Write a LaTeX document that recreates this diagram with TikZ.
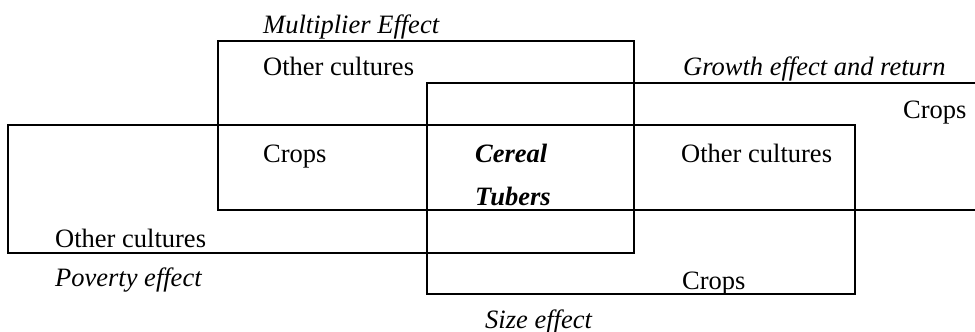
\documentclass[tikz,border=0pt]{standalone}
\usepackage{fontspec}
\setmainfont{Liberation Serif}
\begin{document}
\begin{tikzpicture}[x=1pt,y=-1pt,
  box/.style={draw=black,line width=1.6pt},
  core/.style={draw=black,line width=2.6pt},
  lbl/.style={inner sep=0pt,anchor=base west,font=\fontsize{26.5}{30}\selectfont},
  eff/.style={lbl,font=\fontsize{26.5}{30}\selectfont\itshape},
  cen/.style={lbl,font=\fontsize{26.5}{30}\selectfont\bfseries\itshape}]
\useasboundingbox (0,0) rectangle (975,332);
% rectangles
\draw[box] (218,41) rectangle (634,210);          % multiplier
\draw[box] (975,83) -- (427,83) -- (427,210) -- (975,210); % growth
\draw[box] (8,125) rectangle (634,253);           % poverty
\draw[box] (427,125) rectangle (855,294);         % size
\draw[core] (427,125) rectangle (634,210);        % centre
% texts
\node[eff] (mult) at (263,34) {Multiplier Effect};
\node[lbl] (oc1) at (263,75) {Other cultures};
\node[eff] (grow) at (683,75) {Growth effect and return};
\node[lbl] (cr1) at (903,118) {Crops};
\node[lbl] (cr2) at (263,162) {Crops};
\node[cen] (cer) at (475,162) {Cereal};
\node[cen] (tub) at (475,205) {Tubers};
\node[lbl] (oc2) at (681,162) {Other cultures};
\node[lbl] (oc3) at (55,247) {Other cultures};
\node[eff] (pov) at (55,286) {Poverty effect};
\node[lbl] (cr3) at (682,289) {Crops};
\node[eff] (size) at (485,328) {Size effect};
\end{tikzpicture}
\end{document}
